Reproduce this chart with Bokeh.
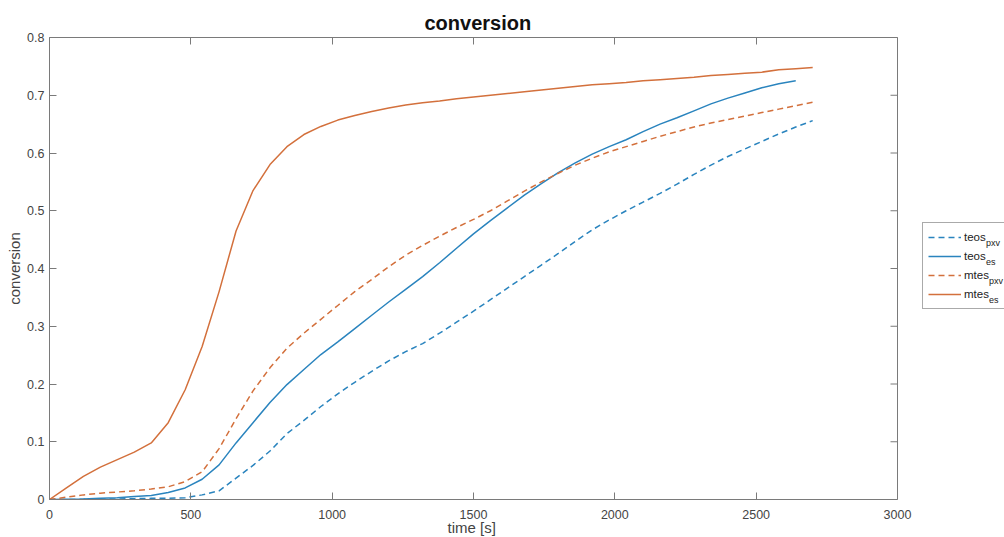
from bokeh.plotting import figure
from bokeh.models import Range1d, FixedTicker, LinearAxis, Legend, LegendItem, Label, Span, Title
from bokeh.embed import file_html
from bokeh.resources import INLINE

# ---- data (time in s, conversion) ----
time_s = [0, 60, 120, 180, 240, 300, 360, 420, 480, 540, 600, 660, 720, 780, 840, 900,
          960, 1020, 1080, 1140, 1200, 1260, 1320, 1380, 1440, 1500, 1560, 1620, 1680,
          1740, 1800, 1860, 1920, 1980, 2040, 2100, 2160, 2220, 2280, 2340, 2400, 2460,
          2520, 2580, 2640, 2700]

teos_pxv = [0, 0, 0.0003, 0.0006, 0.001, 0.0015, 0.002, 0.002, 0.003, 0.008, 0.015, 0.037,
            0.059, 0.084, 0.114, 0.137, 0.161, 0.183, 0.203, 0.222, 0.240, 0.256, 0.270,
            0.288, 0.307, 0.326, 0.346, 0.366, 0.386, 0.406, 0.426, 0.447, 0.467, 0.484,
            0.500, 0.515, 0.530, 0.546, 0.563, 0.579, 0.594, 0.607, 0.620, 0.633, 0.645, 0.656]

teos_es = [0, 0.0005, 0.001, 0.002, 0.003, 0.005, 0.007, 0.012, 0.020, 0.035, 0.060, 0.098,
           0.133, 0.168, 0.199, 0.225, 0.251, 0.273, 0.296, 0.319, 0.342, 0.364, 0.386,
           0.410, 0.435, 0.460, 0.483, 0.505, 0.527, 0.547, 0.566, 0.583, 0.598, 0.611,
           0.623, 0.637, 0.650, 0.661, 0.673, 0.685, 0.695, 0.704, 0.713, 0.720, 0.725]

mtes_pxv = [0, 0.004, 0.008, 0.011, 0.013, 0.015, 0.018, 0.022, 0.031, 0.048, 0.088, 0.140,
            0.188, 0.228, 0.262, 0.288, 0.312, 0.336, 0.360, 0.381, 0.403, 0.423, 0.440,
            0.456, 0.471, 0.485, 0.500, 0.517, 0.534, 0.550, 0.565, 0.579, 0.591, 0.602,
            0.611, 0.620, 0.629, 0.637, 0.645, 0.652, 0.658, 0.664, 0.670, 0.676, 0.682, 0.688]

mtes_es = [0, 0.020, 0.040, 0.056, 0.069, 0.082, 0.098, 0.133, 0.190, 0.265, 0.360, 0.465,
           0.535, 0.580, 0.611, 0.632, 0.646, 0.657, 0.665, 0.672, 0.678, 0.683, 0.687,
           0.690, 0.694, 0.697, 0.700, 0.703, 0.706, 0.709, 0.712, 0.715, 0.718, 0.720,
           0.722, 0.725, 0.727, 0.729, 0.731, 0.734, 0.736, 0.738, 0.740, 0.744, 0.746, 0.748]

x_ticks = [0, 500, 1000, 1500, 2000, 2500, 3000]
y_ticks = [0, 0.1, 0.2, 0.3, 0.4, 0.5, 0.6, 0.7, 0.8]
y_tick_labels = ["0", "0.1", "0.2", "0.3", "0.4", "0.5", "0.6", "0.7", "0.8"]
X_MAX = 3000

series_names = ["teos", "teos", "mtes", "mtes"]
series_subs = ["pxv", "es", "pxv", "es"]

BLUE = "#2a84be"
ORANGE = "#d3703c"
AXIS = "#7a7a7a"
FONT = "Liberation Sans"
styles = [(BLUE, "6 4"), (BLUE, "solid"), (ORANGE, "6 4"), (ORANGE, "solid")]

# layout: plot box 49..897 px horizontally; the frame continues to the right edge
W, H = 1004, 537
LEFT, BOX_RIGHT, TOP, BOTTOM = 49, 897, 37, 38
box_w = BOX_RIGHT - LEFT
frame_w = W - LEFT
x_end = X_MAX * frame_w / box_w
TICK = 7  # px, inward ticks

p = figure(width=W, height=H, output_backend="svg", toolbar_location=None,
           x_range=Range1d(0, x_end), y_range=Range1d(0, 0.8),
           min_border_left=LEFT, min_border_right=0, min_border_top=TOP, min_border_bottom=BOTTOM,
           background_fill_color="white", border_fill_color="white")

p.title.text = "conversion"
p.title.align = "left"
p.title.offset = 375
p.title.text_font = FONT
p.title.text_font_size = "20px"
p.title.text_font_style = "bold"
p.title.text_color = "#111111"
p.title.standoff = 7

p.grid.visible = False
p.outline_line_color = None

series = [teos_pxv, teos_es, mtes_pxv, mtes_es]
rends = []
for vals, (col, dash) in zip(series, styles):
    rends.append(p.line(time_s[:len(vals)], vals, line_color=col, line_width=1.5, line_dash=dash))

xa = p.xaxis[0]
ya = p.yaxis[0]
xa.ticker = FixedTicker(ticks=x_ticks)
xa.bounds = (0, X_MAX)
ya.ticker = FixedTicker(ticks=y_ticks)
ya.major_label_overrides = {t: l for t, l in zip(y_ticks, y_tick_labels)}
ya.axis_label = "conversion"

for ax in (xa, ya):
    ax.axis_line_color = AXIS
    ax.major_tick_line_color = AXIS
    ax.major_tick_in = TICK
    ax.major_tick_out = 0
    ax.minor_tick_line_color = None
    ax.major_label_text_font = FONT
    ax.major_label_text_font_size = "12.5px"
    ax.major_label_text_color = "#444444"
    ax.axis_label_text_font = FONT
    ax.axis_label_text_font_size = "15px"
    ax.axis_label_text_font_style = "normal"
    ax.axis_label_text_color = "#444444"
xa.major_label_standoff = 10
ya.major_label_standoff = 5
ya.axis_label_standoff = 1

# x axis title, centred under the plot box (a Title in the lower side panel)
xtitle = Title(text="time [s]", align="left", offset=398, standoff=-8,
               vertical_align="middle", text_font=FONT, text_font_size="15px",
               text_font_style="normal", text_color="#444444")
p.add_layout(xtitle, "below")

# top border with mirrored ticks
top = LinearAxis(ticker=FixedTicker(ticks=x_ticks), bounds=(0, X_MAX))
top.axis_line_color = AXIS
top.major_tick_line_color = AXIS
top.major_tick_in = TICK
top.major_tick_out = 0
top.minor_tick_line_color = None
top.major_label_text_font_size = "0px"
top.major_label_text_color = None
top.major_label_standoff = 0
p.add_layout(top, "above")

# right border of the plot box with mirrored ticks
p.add_layout(Span(location=X_MAX, dimension="height", line_color=AXIS, line_width=1))
tick_dx = TICK * X_MAX / box_w
p.segment(x0=[X_MAX] * len(y_ticks), y0=y_ticks,
          x1=[X_MAX - tick_dx] * len(y_ticks), y1=y_ticks, line_color=AXIS, line_width=1)

# legend (outside the plot box, on the right)
items = [LegendItem(label=n, renderers=[r]) for n, r in zip(series_names, rends)]
legend = Legend(items=items, location=(922 - LEFT, H - BOTTOM - 309))
legend.padding = 5
legend.spacing = 1
legend.margin = 0
legend.glyph_width = 33
legend.glyph_height = 18
legend.label_height = 18
legend.label_width = 45
legend.label_standoff = 3
legend.label_text_font = FONT
legend.label_text_font_size = "11.5px"
legend.label_text_color = "#222222"
legend.border_line_color = "#555555"
legend.border_line_width = 1
legend.background_fill_alpha = 0
p.add_layout(legend)

# subscripts of the legend labels (screen units relative to the frame's bottom-left)
sub_px = [985.5, 985.5, 988.5, 988.5]
sub_py = [242.5, 261.5, 280.5, 299.5]
for s, sx, sy in zip(series_subs, sub_px, sub_py):
    p.add_layout(Label(x=sx - LEFT, y=(H - BOTTOM) - sy, x_units="screen", y_units="screen",
                       text=s, text_font=FONT, text_font_size="9px",
                       text_color="#222222", text_baseline="middle", text_align="left",
                       level="overlay"))

open("out.html", "w").write(file_html(p, INLINE))
